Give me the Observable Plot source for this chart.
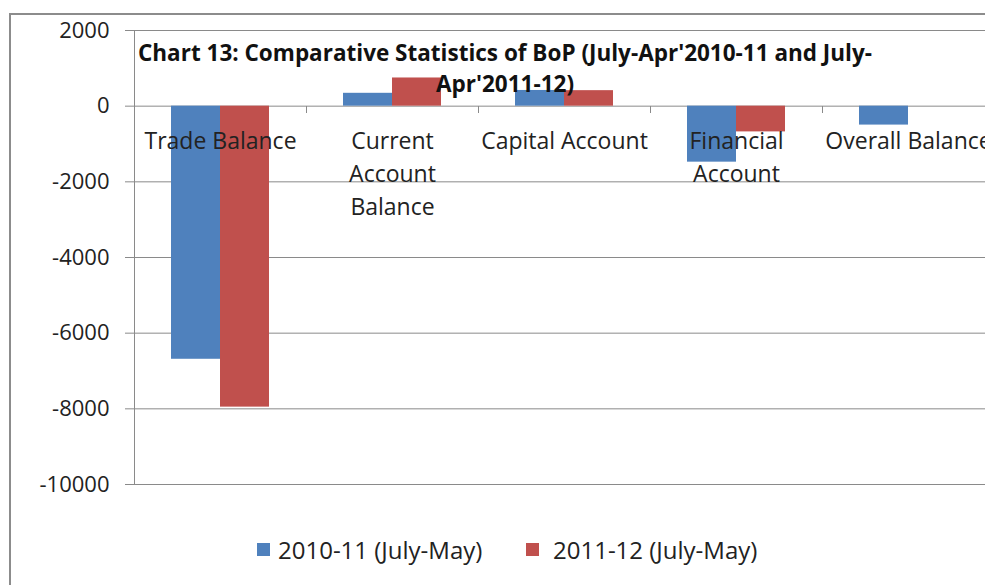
<!DOCTYPE html>
<html>
<head>
<meta charset="utf-8">
<script src="https://cdn.jsdelivr.net/npm/d3@7"></script>
<script src="https://cdn.jsdelivr.net/npm/@observablehq/plot@0.6"></script>
<style>
  html, body { margin: 0; padding: 0; background: #fff; overflow: hidden; }
  #wrap { position: relative; width: 985px; height: 585px; overflow: hidden; font-family: "Open Sans", Lato, sans-serif; color: #222; }
  #border { position: absolute; left: 9px; top: 13px; width: 1100px; height: 700px; border: 2px solid #8c8c8c; box-sizing: border-box; }
  #chart { position: absolute; left: 0; top: 0; width: 1000px; }
  #chart svg { max-width: none !important; }
  #title { position: absolute; left: 137px; top: 37px; width: 736px; text-align: center; font-weight: bold; font-size: 22.5px; line-height: 31px; white-space: nowrap; color: #111; }
  #legend { position: absolute; left: 0; top: 534px; width: 985px; height: 32px; font-size: 24px; }
  .sw { position: absolute; top: 9px; width: 13px; height: 13px; }
  .lt { position: absolute; top: 0; line-height: 32px; white-space: nowrap; }
</style>
</head>
<body>
<div id="wrap">
  <div id="border"></div>
  <div id="chart"></div>
  <div id="title">Chart 13: Comparative Statistics of BoP (July-Apr'2010-11 and July-<br>Apr'2011-12)</div>
  <div id="legend"></div>
</div>
<script>
// ---- data ----
const categories = ["Trade Balance", "Current Account Balance", "Capital Account", "Financial Account", "Overall Balance"];
const categoryLabels = ["Trade Balance", "Current\nAccount\nBalance", "Capital Account", "Financial\nAccount", "Overall Balance"];
const seriesNames = ["2010-11 (July-May)", "2011-12 (July-May)"];
const values2010_11 = [-6690, 340, 415, -1480, -500];
const values2011_12 = [-7955, 745, 410, -680, null];
const yTicks = [-10000, -8000, -6000, -4000, -2000, 0, 2000];
const seriesColors = ["#4F81BD", "#C0504D"];
const gridColor = "#8a8a8a";

const rows = [];
categories.forEach((c, i) => {
  if (values2010_11[i] != null) rows.push({category: c, series: seriesNames[0], value: values2010_11[i]});
  if (values2011_12[i] != null) rows.push({category: c, series: seriesNames[1], value: values2011_12[i]});
});
const labelRows = categories.map((c, i) => ({category: c, label: categoryLabels[i]}));

const chart = Plot.plot({
  width: 1000,
  height: 500,
  marginTop: 30,
  marginBottom: 16,
  marginLeft: 132,
  marginRight: 4,
  style: {fontFamily: "'Open Sans', Lato, sans-serif", background: "transparent", overflow: "visible", maxWidth: "none"},
  fx: {domain: categories, padding: 0, axis: null},
  x: {domain: seriesNames, paddingInner: 0, paddingOuter: 0.75, axis: null},
  y: {domain: [yTicks[0], yTicks[yTicks.length - 1]], axis: null},
  color: {domain: seriesNames, range: seriesColors},
  marks: [
    Plot.gridY(yTicks, {stroke: gridColor, strokeOpacity: 1, strokeWidth: 1}),
    Plot.barY(rows, {fx: "category", x: "series", y: "value", fill: "series"}),
    Plot.ruleY(labelRows, {
      fx: "category", y: () => 0,
      render: (index, scales, values, dims) => {
        const x = scales.x, y = scales.y;
        let x0, x1;
        if (x && typeof x.range === "function") { [x0, x1] = x.range(); }
        else { x0 = dims.marginLeft; x1 = dims.width - dims.marginRight; }
        const g = d3.create("svg:g").attr("stroke", gridColor).attr("stroke-width", 1).attr("shape-rendering", "crispEdges");
        const yz = y(0);
        g.append("line").attr("x1", x1).attr("x2", x1).attr("y1", yz).attr("y2", yz + 7);
        if (index[0] === 0) {
          g.append("line").attr("x1", x0).attr("x2", x0)
            .attr("y1", y(yTicks[yTicks.length - 1])).attr("y2", y(yTicks[0]));
        }
        return g.node();
      }
    }),
    Plot.axisY({ticks: yTicks, label: null, tickSize: 9, tickPadding: 16, tickFormat: d => String(d), fontSize: 22, stroke: gridColor, fill: "#222"}),
    Plot.text(labelRows, {fx: "category", y: () => 0, text: "label", lineAnchor: "top", dy: 20, fontSize: 23, lineHeight: 1.42, fill: "#222"})
  ]
});
document.getElementById("chart").appendChild(chart);

// ---- legend ----
const legend = document.getElementById("legend");
const legendPos = [{sw: 257, tx: 278}, {sw: 526, tx: 553}];
seriesNames.forEach((s, i) => {
  const sw = document.createElement("div");
  sw.className = "sw"; sw.style.left = legendPos[i].sw + "px"; sw.style.background = seriesColors[i];
  const t = document.createElement("div");
  t.className = "lt"; t.style.left = legendPos[i].tx + "px"; t.textContent = s;
  legend.appendChild(sw); legend.appendChild(t);
});
</script>
</body>
</html>
